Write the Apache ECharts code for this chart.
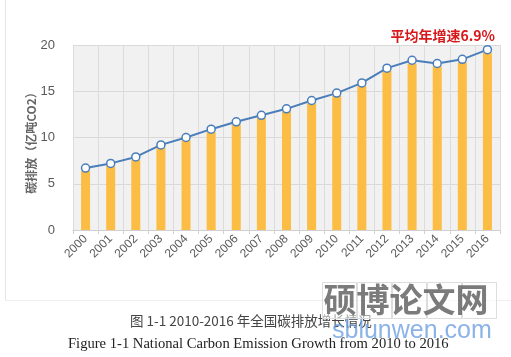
<!DOCTYPE html>
<html><head><meta charset="utf-8">
<script src="https://cdn.jsdelivr.net/npm/echarts@6/dist/echarts.min.js"></script>
<style>html,body{margin:0;padding:0;background:#fff}#c{width:511px;height:357px}</style>
</head><body><div id="c"></div>
<script>
var years = ['2000','2001','2002','2003','2004','2005','2006','2007','2008','2009','2010','2011','2012','2013','2014','2015','2016'];
var barValues = [6.4,6.9,7.6,8.9,9.7,10.6,11.4,12.1,12.8,13.7,14.5,15.6,17.2,18.0,17.7,18.1,19.2];
var lineValues = [6.7,7.2,7.9,9.2,10.0,10.9,11.7,12.4,13.1,14.0,14.8,15.9,17.5,18.35,18.0,18.45,19.5];
var yName = '碳排放（亿吨CO2）';
var note = '平均年增速6.9%';
var captionCn = '图 1-1 2010-2016 年全国碳排放增长情况';
var captionEn = 'Figure 1-1 National Carbon Emission Growth from 2010 to 2016';

var chart = echarts.init(document.getElementById('c'));
chart.setOption({
  animation: false,
  backgroundColor: '#fff',
  title: {
    text: note, right: 11, top: 24,
    textStyle: {color: '#d7191c', fontSize: 14, fontWeight: 'bold', fontFamily: 'Noto Sans CJK SC'}
  },
  grid: {left: 73, right: 11, top: 45, bottom: 127, show: true, backgroundColor: '#f1f1f1', borderWidth: 0},
  xAxis: {
    type: 'category', data: years, boundaryGap: true,
    axisLine: {lineStyle: {color: '#d0d0d0'}},
    axisTick: {show: true, length: 4, lineStyle: {color: '#d0d0d0'}},
    splitLine: {show: true, lineStyle: {color: '#dcdcdc'}},
    axisLabel: {rotate: 45, margin: 7, color: '#5c5c5c', fontSize: 12, fontFamily: 'Liberation Sans', interval: 0}
  },
  yAxis: {
    type: 'value', min: 0, max: 20, interval: 5,
    axisLine: {show: false}, axisTick: {show: false},
    splitLine: {lineStyle: {color: '#d9d9d9'}},
    axisLabel: {color: '#5a5a5a', fontSize: 13, margin: 18, fontFamily: 'Liberation Sans'}
  },
  series: [
    {type: 'bar', data: barValues, barWidth: 9, itemStyle: {color: '#fbbd43'}},
    {type: 'line', data: lineValues, symbol: 'circle', symbolSize: 8, z: 5,
     lineStyle: {color: '#4a7ebb', width: 2},
     itemStyle: {color: '#fff', borderColor: '#4a7ebb', borderWidth: 1.5}}
  ],
  graphic: [
    {type: 'line', shape: {x1: 5.5, y1: 0, x2: 5.5, y2: 300}, style: {stroke: '#e6e6e6', lineWidth: 1}},
    {type: 'line', shape: {x1: 5, y1: 300.5, x2: 511, y2: 300.5}, style: {stroke: '#eeeeee', lineWidth: 1}},
    {type: 'text', x: 31, y: 140, rotation: Math.PI / 2,
     style: {text: yName, fill: '#666', font: 'bold 12px "Noto Sans CJK SC"', align: 'center', verticalAlign: 'middle'}},
    {type: 'text', left: 130, top: 314, style: {text: captionCn, fill: '#444', font: '13.5px "Noto Sans CJK SC"'}},
    {type: 'text', left: 68, top: 337, style: {text: captionEn, fill: '#222', font: '14.6px "Liberation Serif"'}},
    {type: 'group', left: 322, top: 282, children: [
      {type: 'rect', shape: {x: 0, y: 0, width: 34, height: 36}, style: {fill: 'rgba(255,255,255,0.5)', stroke: '#ddd'}},
      {type: 'rect', shape: {x: 35, y: 0, width: 34, height: 36}, style: {fill: 'rgba(255,255,255,0.5)', stroke: '#ddd'}},
      {type: 'rect', shape: {x: 70, y: 0, width: 34, height: 36}, style: {fill: 'rgba(255,255,255,0.5)', stroke: '#ddd'}},
      {type: 'rect', shape: {x: 105, y: 0, width: 34, height: 36}, style: {fill: 'rgba(255,255,255,0.5)', stroke: '#ddd'}},
      {type: 'rect', shape: {x: 140, y: 0, width: 34, height: 36}, style: {fill: 'rgba(255,255,255,0.5)', stroke: '#ddd'}},
      {type: 'text', x: 1, y: 0, style: {text: '硕博论文网', fill: 'rgba(100,100,100,0.85)', font: 'bold 33px "Noto Sans CJK SC"'}}
    ]},
    {type: 'text', left: 332, top: 319, style: {text: 'sblunwen.com', fill: 'rgba(110,160,225,0.8)', font: '25px "Liberation Sans"'}}
  ]
});
</script></body></html>
